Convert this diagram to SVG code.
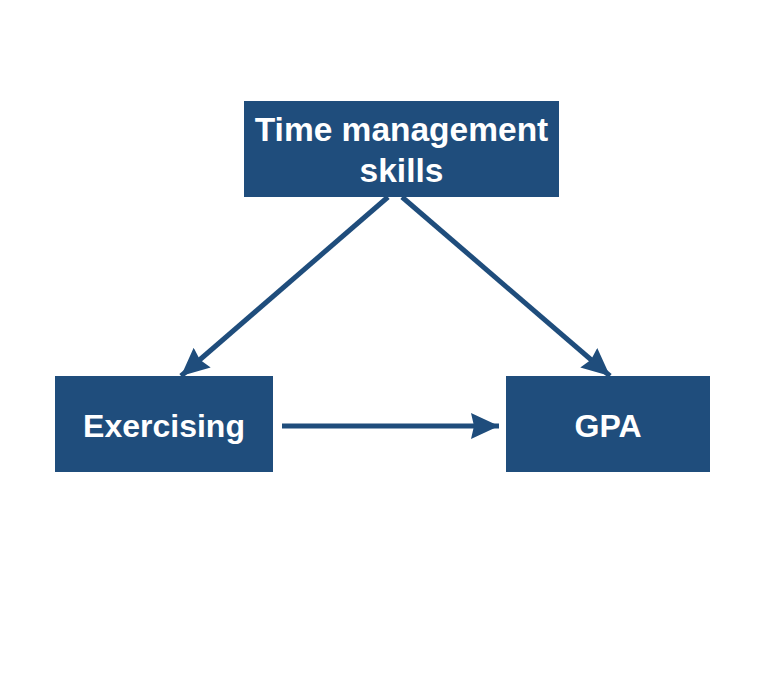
<svg xmlns="http://www.w3.org/2000/svg" width="774" height="691" viewBox="0 0 774 691">
<style>
.box{fill:#1f4d7c}
.lbl{font-family:"Liberation Sans",Arial,sans-serif;font-weight:bold;font-size:32px;fill:#ffffff;text-anchor:middle}
.edge{stroke:#1f4d7c;stroke-width:5;fill:none}
</style>
<defs>
<marker id="ah" markerUnits="userSpaceOnUse" markerWidth="30" markerHeight="30" viewBox="0 0 30 30" refX="28" refY="15" orient="auto">
<path d="M0,2 L28,15 L0,28 L3,15 Z" fill="#1f4d7c"/>
</marker>
</defs>
<rect width="774" height="691" fill="#ffffff"/>
<g id="connectors">
<line class="edge" x1="388" y1="197" x2="181" y2="376" marker-end="url(#ah)"/>
<line class="edge" x1="402" y1="197" x2="610" y2="376" marker-end="url(#ah)"/>
<line class="edge" x1="282" y1="426" x2="499" y2="426" marker-end="url(#ah)"/>
</g>
<g id="time">
<rect class="box" x="244" y="101" width="315" height="96"/>
<text class="lbl" x="401.5" y="141" style="font-size:33.5px">Time management</text>
<text class="lbl" x="401.5" y="182" style="font-size:33.5px">skills</text>
</g>
<g id="exercising">
<rect class="box" x="55" y="376" width="218" height="96"/>
<text class="lbl" x="164" y="437">Exercising</text>
</g>
<g id="gpa">
<rect class="box" x="506" y="376" width="204" height="96"/>
<text class="lbl" x="608" y="437">GPA</text>
</g>
</svg>
